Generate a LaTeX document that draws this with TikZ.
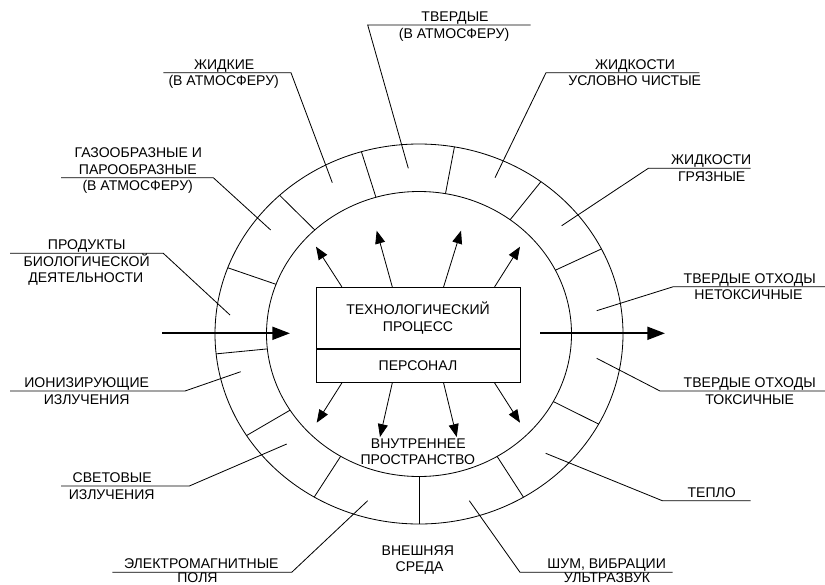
\documentclass[tikz,border=0pt]{standalone}
\usepackage{fontspec}
\setmainfont{Liberation Sans}
\usetikzlibrary{arrows.meta,calc}
\begin{document}
\begin{tikzpicture}[x=0.03cm,y=-0.03cm,
  thin line/.style={line width=0.7pt},
  lbl/.style={anchor=base,inner sep=0pt,font=\fontsize{12}{14.5}\selectfont},
  boxtext/.style={draw,thin line,minimum width=6.12cm,inner sep=0pt,align=center,font=\fontsize{12}{14.5}\selectfont},
  smallarrow/.style={thin line,-{Triangle[length=11pt,width=8.5pt]}},
  bigarrow/.style={line width=1.7pt,-{Triangle[length=15pt,width=11pt]}},
  leader/.style={thin line}]
\useasboundingbox (0,0) rectangle (825,584);
% ring
\draw[thin line] (419,334) ellipse [x radius=204, y radius=190];
\draw[thin line] (419,334) ellipse [x radius=152.5, y radius=142.5];
\foreach \a in {26.6,53.3,80,106.4,133.1,159.6,186,212.3,239.1,270,300.8,331.7}
  \draw[thin line] ({419+152.5*cos(\a)},{334-142.5*sin(\a)}) -- ({419+204*cos(\a)},{334-190*sin(\a)});
% central box
\node[boxtext,minimum height=1.842cm] (proc) at (418,318) {ТЕХНОЛОГИЧЕСКИЙ\\ПРОЦЕСС};
\node[boxtext,minimum height=0.99cm,anchor=north] (pers) at (proc.south) {ПЕРСОНАЛ};
% arrow tips
\coordinate (tu1) at (316,246.7);
\coordinate (tu2) at (376.7,230.7);
\coordinate (tu3) at (461,230.7);
\coordinate (tu4) at (520,246.7);
\coordinate (td1) at (316.7,422.7);
\coordinate (td2) at (380,437);
\coordinate (td3) at (456.7,437);
\coordinate (td4) at (520,422.7);
\draw[smallarrow] ($(proc.north west)+(26.3,0)$) -- (tu1);
\draw[smallarrow] ($(proc.north west)+(76.7,0)$) -- (tu2);
\draw[smallarrow] ($(proc.north west)+(128,0)$) -- (tu3);
\draw[smallarrow] ($(proc.north west)+(179,0)$) -- (tu4);
\draw[smallarrow] ($(pers.south west)+(26.3,0)$) -- (td1);
\draw[smallarrow] ($(pers.south west)+(76.7,0)$) -- (td2);
\draw[smallarrow] ($(pers.south west)+(128,0)$) -- (td3);
\draw[smallarrow] ($(pers.south west)+(179,0)$) -- (td4);
% horizontal arrows
\coordinate (inS) at (162.3,333.3);
\coordinate (inE) at (290,333.3);
\coordinate (outS) at (540,333.3);
\coordinate (outE) at (665,333.3);
\draw[bigarrow] (inS) -- (inE);
\draw[bigarrow] (outS) -- (outE);
% labels
% A
\node[lbl] (a1) at (455,21.5) {ТВЕРДЫЕ};
\node[lbl] (a2) at (454,38) {(В АТМОСФЕРУ)};
\coordinate (aL) at (367.7,25); \coordinate (aR) at (530.7,25); \coordinate (aP) at (408.3,168.3);
\draw[leader] (aR) -- (aL) -- (aP);
% B
\node[lbl] (b1) at (224.2,69.2) {ЖИДКИЕ};
\node[lbl] (b2) at (223.7,85.7) {(В АТМОСФЕРУ)};
\coordinate (bL) at (163.3,72.7); \coordinate (bR) at (291,72.7); \coordinate (bP) at (332.3,182.7);
\draw[leader] (bL) -- (bR) -- (bP);
% C
\node[lbl] (c1) at (138.3,157.7) {ГАЗООБРАЗНЫЕ И};
\node[lbl] (c2) at (137.8,174.2) {ПАРООБРАЗНЫЕ};
\node[lbl] (c3) at (137.7,190.7) {(В АТМОСФЕРУ)};
\coordinate (cL) at (61,177.7); \coordinate (cR) at (213.3,177.7); \coordinate (cP) at (270.7,230);
\draw[leader] (cL) -- (cR) -- (cP);
% D
\node[lbl] (d1) at (86.8,249.8) {ПРОДУКТЫ};
\node[lbl] (d2) at (86.7,266.3) {БИОЛОГИЧЕСКОЙ};
\node[lbl] (d3) at (85.8,282.8) {ДЕЯТЕЛЬНОСТИ};
\coordinate (dL) at (10,253.3); \coordinate (dR) at (163.3,253.3); \coordinate (dP) at (230,315);
\draw[leader] (dL) -- (dR) -- (dP);
% E
\node[lbl] (e1) at (86.7,387.5) {ИОНИЗИРУЮЩИЕ};
\node[lbl] (e2) at (86.7,404) {ИЗЛУЧЕНИЯ};
\coordinate (eL) at (10,391); \coordinate (eR) at (185,391); \coordinate (eP) at (240.7,371.7);
\draw[leader] (eL) -- (eR) -- (eP);
% F
\node[lbl] (f1) at (112.2,482.5) {СВЕТОВЫЕ};
\node[lbl] (f2) at (111.7,499) {ИЗЛУЧЕНИЯ};
\coordinate (fL) at (61,486); \coordinate (fR) at (189.3,486); \coordinate (fP) at (286.7,444);
\draw[leader] (fL) -- (fR) -- (fP);
% G
\node[lbl] (g1) at (201.3,568.5) {ЭЛЕКТРОМАГНИТНЫЕ};
\node[lbl] (g2) at (197.5,582.3) {ПОЛЯ};
\coordinate (gL) at (112.3,572.3); \coordinate (gR) at (291.7,572.3); \coordinate (gP) at (367.7,500.7);
\draw[leader] (gL) -- (gR) -- (gP);
% H
\node[lbl] (h1) at (417.8,555.5) {ВНЕШНЯЯ};
\node[lbl] (h2) at (419.5,571.5) {СРЕДА};
% I
\node[lbl] (i1) at (418.3,448.5) {ВНУТРЕННЕЕ};
\node[lbl] (i2) at (417.8,464.5) {ПРОСТРАНСТВО};
% J
\node[lbl] (j1) at (606.7,568.8) {ШУМ, ВИБРАЦИИ};
\node[lbl] (j2) at (607,582.3) {УЛЬТРАЗВУК};
\coordinate (jL) at (520,572.3); \coordinate (jR) at (672.7,572.3); \coordinate (jP) at (469.3,500.7);
\draw[leader] (jR) -- (jL) -- (jP);
% K
\node[lbl] (k1) at (711.7,497.2) {ТЕПЛО};
\coordinate (kL) at (662.3,500.7); \coordinate (kR) at (750.7,500.7); \coordinate (kP) at (545.7,453.3);
\draw[leader] (kR) -- (kL) -- (kP);
% L
\node[lbl] (l1) at (749.7,387.5) {ТВЕРДЫЕ ОТХОДЫ};
\node[lbl] (l2) at (749.7,404) {ТОКСИЧНЫЕ};
\coordinate (lL) at (660,391); \coordinate (lR) at (825,391); \coordinate (lP) at (596.7,358.3);
\draw[leader] (lR) -- (lL) -- (lP);
% M
\node[lbl] (m1) at (749.7,283.2) {ТВЕРДЫЕ ОТХОДЫ};
\node[lbl] (m2) at (748.5,299.7) {НЕТОКСИЧНЫЕ};
\coordinate (mL) at (673.3,286.7); \coordinate (mR) at (825,286.7); \coordinate (mP) at (596.7,310.7);
\draw[leader] (mR) -- (mL) -- (mP);
% N
\node[lbl] (n1) at (711.2,164.8) {ЖИДКОСТИ};
\node[lbl] (n2) at (711.7,181.3) {ГРЯЗНЫЕ};
\coordinate (nL) at (648.3,168.3); \coordinate (nR) at (750.7,168.3); \coordinate (nP) at (561.7,225.7);
\draw[leader] (nR) -- (nL) -- (nP);
% O
\node[lbl] (o1) at (635,69.2) {ЖИДКОСТИ};
\node[lbl] (o2) at (634.7,85.7) {УСЛОВНО ЧИСТЫЕ};
\coordinate (oL) at (546,72.7); \coordinate (oR) at (699.3,72.7); \coordinate (oP) at (495,177.7);
\draw[leader] (oR) -- (oL) -- (oP);
\end{tikzpicture}
\end{document}
